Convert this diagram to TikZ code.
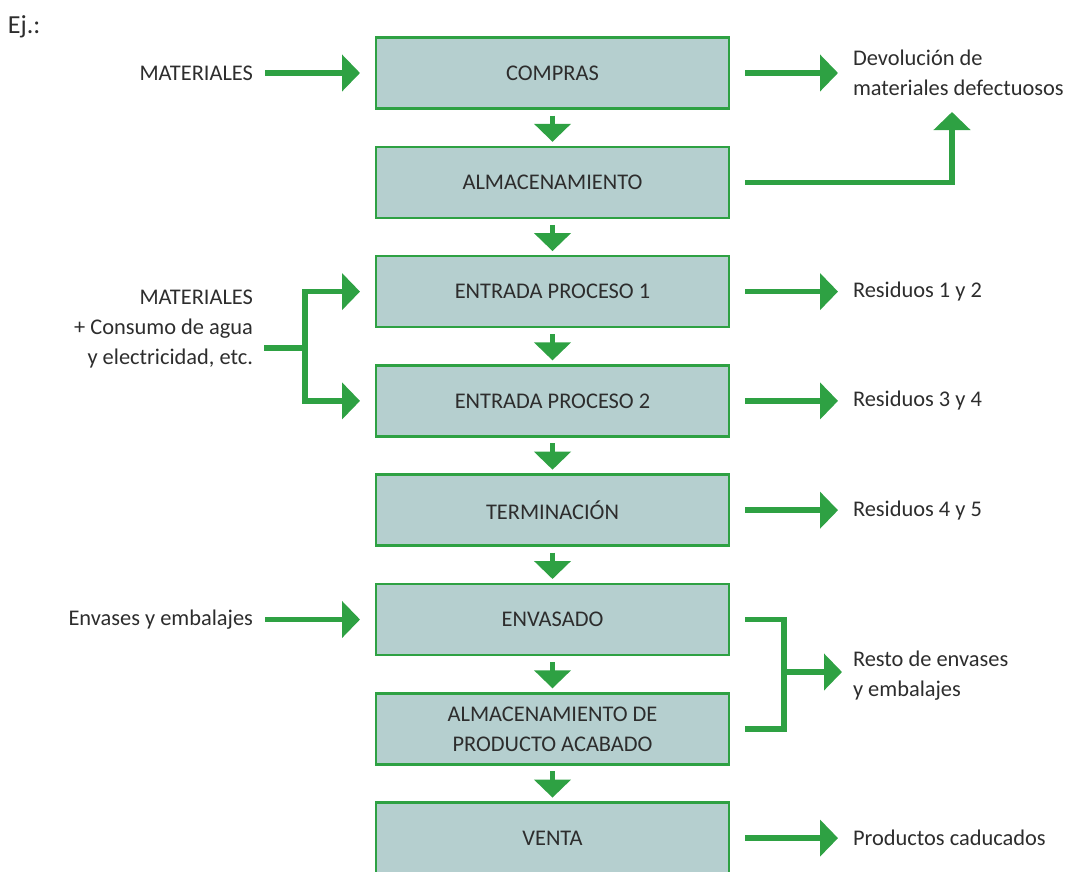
\documentclass[tikz,border=0pt]{standalone}
\usepackage{fontspec}
\setmainfont{Carlito}
\usetikzlibrary{arrows.meta,positioning}
\definecolor{verde}{RGB}{46,161,67}
\definecolor{caja}{RGB}{181,207,207}
\definecolor{texto}{RGB}{45,45,45}
\tikzset{main node/.style={rectangle,draw=verde,fill=caja,line width=2.5pt,minimum width=353pt,minimum height=71pt,inner sep=0pt,outer sep=0pt,align=center,text=texto},
side node/.style={inner sep=0pt,outer sep=0pt,text=texto},
}

\begin{document}
\begin{tikzpicture}[x=1pt,y=-1pt,node distance=38.3pt,
flow/.style={verde,line width=5.5pt,-{Triangle[length=18pt,width=36pt]}},
bar/.style={verde,line width=5.5pt},
font=\fontsize{22.4}{30}\selectfont]
\clip (0,0) rectangle (1067,871);

\node[main node] (compras) at (552.5,73) {COMPRAS};
\node[main node] (alm) [below=of compras] {ALMACENAMIENTO};
\node[main node] (ep1) [below=of alm] {ENTRADA PROCESO 1};
\node[main node] (ep2) [below=of ep1] {ENTRADA PROCESO 2};
\node[main node] (term) [below=of ep2] {TERMINACIÓN};
\node[main node] (env) [below=of term] {ENVASADO};
\node[main node] (almpa) [below=of env] {ALMACENAMIENTO DE\\PRODUCTO ACABADO};
\node[main node] (venta) [below=of almpa] {VENTA};

\node[side node,font=\fontsize{26}{30}\selectfont,anchor=north west] (ej) at (8,16) {Ej.:};
\node[side node] (mat1) [left=123pt of compras] {MATERIALES};
\node[side node,align=right] (mat2) [left=123pt of ep1,yshift=-37pt] {MATERIALES\\+ Consumo de agua\\y electricidad, etc.};
\node[side node] (envemb) [left=123pt of env] {Envases y embalajes};

\node[side node,align=left] (dev) [right=124pt of compras] {Devolución de\\materiales defectuosos};
\node[side node] (res12) [right=124pt of ep1] {Residuos 1 y 2};
\node[side node] (res34) [right=124pt of ep2] {Residuos 3 y 4};
\node[side node] (res45) [right=124pt of term] {Residuos 4 y 5};
\node[side node,align=left] (rest) [right=124pt of env,yshift=-56pt] {Resto de envases\\y embalajes};
\node[side node] (cad) [right=124pt of venta] {Productos caducados};

\coordinate (jl) at (305,348);
\coordinate (jr) at (784,672);
\coordinate (devin) at (952,112);

\foreach \a/\b in {compras/alm,alm/ep1,ep1/ep2,ep2/term,term/env,env/almpa,almpa/venta}
  \draw[flow,shorten <=7pt,shorten >=5pt] (\a) -- (\b);

\draw[flow,shorten <=12pt,shorten >=16pt] (mat1) -- (compras);
\draw[flow,shorten <=12pt,shorten >=16pt] (envemb) -- (env);
\draw[bar,shorten <=11pt] (mat2.east |- jl) -- (jl);
\draw[bar,line cap=rect] (jl |- ep1) -- (jl |- ep2);
\draw[flow,shorten >=16pt] (jl |- ep1) -- (ep1);
\draw[flow,shorten >=16pt] (jl |- ep2) -- (ep2);

\draw[flow,shorten <=16pt,shorten >=15pt] (compras) -- (dev);
\draw[flow,shorten <=16pt] (alm.east) -| (devin);
\draw[flow,shorten <=16pt,shorten >=15pt] (ep1) -- (res12);
\draw[flow,shorten <=16pt,shorten >=15pt] (ep2) -- (res34);
\draw[flow,shorten <=16pt,shorten >=15pt] (term) -- (res45);
\draw[bar,shorten <=16pt,shorten >=16pt] (env.east) -| (jr) |- (almpa.east);
\draw[flow,shorten >=11pt] (jr) -- (jr -| rest.west);
\draw[flow,shorten <=16pt,shorten >=15pt] (venta) -- (cad);
\end{tikzpicture}
\end{document}
